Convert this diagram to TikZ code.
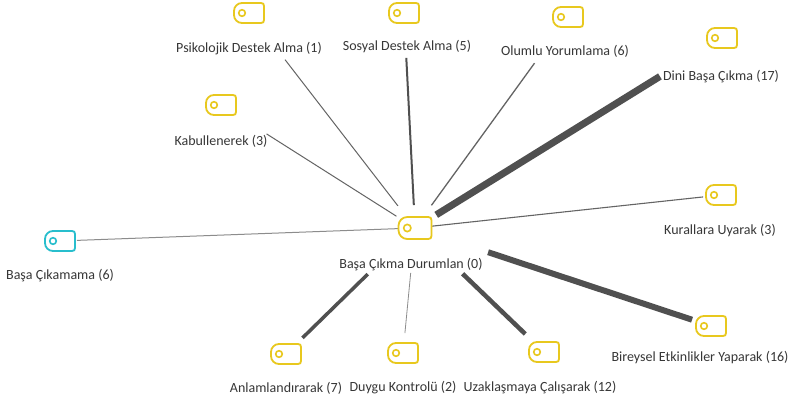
\documentclass[tikz,border=0pt]{standalone}
\usepackage{fontspec}
\setmainfont{Carlito}
\definecolor{tagyellow}{RGB}{232,200,30}
\definecolor{tagcyan}{RGB}{40,190,205}
\definecolor{txt}{RGB}{55,55,55}
\definecolor{edgedark}{RGB}{80,80,80}
\definecolor{edgemid}{RGB}{100,100,100}
\definecolor{edgelight}{RGB}{140,140,140}
\tikzset{
  iconnode/.style={inner sep=0pt, minimum size=0pt, draw=none},
  lbl/.style={inner sep=1pt, text=txt, font=\fontsize{14}{16}\selectfont},
  edge/.style={draw=edgedark, line cap=butt},
  tag/.pic={
    \draw[line width=1.8pt, draw=#1]
      (-7,-10) -- (12,-10) .. controls (14,-10) and (15,-9) .. (15,-7)
      -- (15,7) .. controls (15,9) and (14,10) .. (12,10)
      -- (-7,10) .. controls (-11.4,10) and (-15,6.4) .. (-15,2)
      -- (-15,-2) .. controls (-15,-6.4) and (-11.4,-10) .. (-7,-10) -- cycle;
    \draw[line width=1.6pt, draw=#1] (-7,0) circle[radius=3.3];
  }
}
\begin{document}
\begin{tikzpicture}[x=1pt,y=-1pt]
\path[use as bounding box, fill=white] (0,0) rectangle (801,405);

% icon nodes
\node[iconnode] (c) at (415,228) {};
\node[iconnode] (p) at (249,13) {};
\node[iconnode] (s) at (404,13) {};
\node[iconnode] (o) at (568,17) {};
\node[iconnode] (d) at (722,38) {};
\node[iconnode] (k) at (221,105) {};
\node[iconnode] (b) at (60,241) {};
\node[iconnode] (r) at (721,195) {};
\node[iconnode] (i) at (711,326) {};
\node[iconnode] (u) at (544,352) {};
\node[iconnode] (y) at (403,353) {};
\node[iconnode] (a) at (286,354) {};

% edges
\draw[edge, line width=7pt, shorten <=25pt, shorten >=73pt] (c.center) -- (d.center);
\draw[edge, line width=6pt, shorten <=77pt, shorten >=20pt] (c.center) -- (i.center);
\draw[edge, line width=4.5pt, shorten <=66pt, shorten >=26pt] (c.center) -- (u.center);
\draw[edge, line width=3.5pt, shorten <=66pt, shorten >=23pt] (c.center) -- (a.center);
\draw[edge, line width=2pt, shorten <=23pt, shorten >=45pt] (c.center) -- (s.center);
\draw[edge, draw=edgemid, line width=1.3pt, shorten <=28pt, shorten >=57pt] (c.center) -- (o.center);
\draw[edge, draw=edgemid, line width=1pt, shorten <=28pt, shorten >=59pt] (c.center) -- (p.center);
\draw[edge, draw=edgemid, line width=1pt, shorten <=22pt, shorten >=54pt] (c.center) -- (k.center);
\draw[edge, draw=edgemid, line width=1.1pt, shorten <=17pt, shorten >=18pt] (c.center) -- (r.center);
\draw[edge, draw=edgelight, line width=1pt, shorten <=17pt, shorten >=17pt] (c.center) -- (b.center);
\draw[edge, draw=edgelight, line width=0.8pt, shorten <=45pt, shorten >=20pt] (c.center) -- (y.center);

% icons
\pic[scale=1.1] at (c) {tag=tagyellow};
\pic at (p) {tag=tagyellow};
\pic at (s) {tag=tagyellow};
\pic at (o) {tag=tagyellow};
\pic at (d) {tag=tagyellow};
\pic at (k) {tag=tagyellow};
\pic at (b) {tag=tagcyan};
\pic at (r) {tag=tagyellow};
\pic at (i) {tag=tagyellow};
\pic at (u) {tag=tagyellow};
\pic at (y) {tag=tagyellow};
\pic at (a) {tag=tagyellow};

% labels
\node[lbl] (cl) at (411,265) {Başa Çıkma Durumlan (0)};
\node[lbl] (pl) at (249,49) {Psikolojik Destek Alma (1)};
\node[lbl] (sl) at (407,47) {Sosyal Destek Alma (5)};
\node[lbl] (ol) at (565,51) {Olumlu Yorumlama (6)};
\node[lbl] (dl) at (721,77) {Dini Başa Çıkma (17)};
\node[lbl] (kl) at (221,141) {Kabullenerek (3)};
\node[lbl] (bl) at (60,276) {Başa Çıkamama (6)};
\node[lbl] (rl) at (720,231) {Kurallara Uyarak (3)};
\node[lbl] (il) at (700,358) {Bireysel Etkinlikler Yaparak (16)};
\node[lbl] (al) at (286,388) {Anlamlandırarak (7)};
\node[lbl] (yl) at (403,388) {Duygu Kontrolü (2)};
\node[lbl] (ul) at (540,388) {Uzaklaşmaya Çalışarak (12)};
\end{tikzpicture}
\end{document}
